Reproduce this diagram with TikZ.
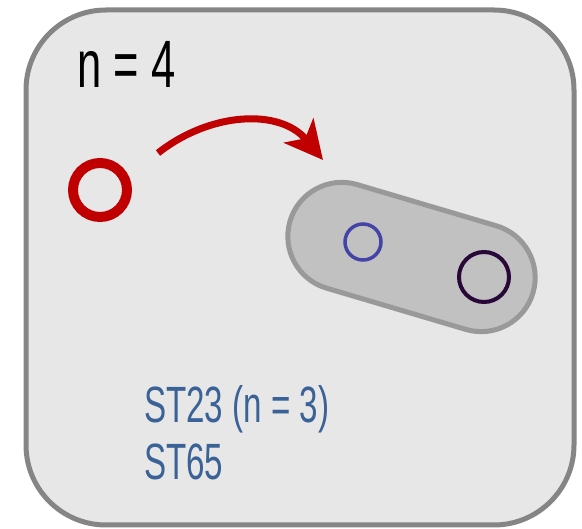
\documentclass[tikz,border=0pt]{standalone}
\usepackage{fontspec}
\newfontfamily\narrowfont[FakeStretch=0.65]{Liberation Sans}
\usetikzlibrary{arrows.meta, positioning, shapes.misc}
\definecolor{panelfill}{RGB}{231,231,231}
\definecolor{panelline}{RGB}{133,133,133}
\definecolor{isored}{RGB}{192,0,0}
\definecolor{pairfill}{RGB}{193,193,193}
\definecolor{pairline}{RGB}{153,153,153}
\definecolor{stblue}{RGB}{68,68,168}
\definecolor{stdark}{RGB}{40,8,56}
\definecolor{labelblue}{RGB}{58,98,150}

\begin{document}
\begin{tikzpicture}[x=1pt, y=-1pt,
  panel/.style={draw=panelline, fill=panelfill, line width=5pt, rounded corners=80pt},
  strain/.style={circle, draw, inner sep=0pt},
  big text/.style={font=\narrowfont\fontsize{67}{72}\selectfont, anchor=base west, inner sep=0pt},
  st text/.style={font=\narrowfont\fontsize{51}{56}\selectfont, labelblue, anchor=base west, inner sep=0pt}]
  \useasboundingbox (0,0) rectangle (582,529);
  % Outer panel
  \draw[panel] (26,10) rectangle (574,525);
  \node[big text] (count) at (77,88) {n = 4};
  % Single isolate
  \node[strain, draw=isored, line width=10pt, minimum size=54pt] (iso) at (100,190) {};
  % Arrow
  \coordinate (arrow start) at (158,153);
  \coordinate (arrow end) at (323,160);
  \draw[isored, line width=7pt, -{Stealth[length=38pt, width=38pt, inset=10pt]}]
    (arrow start) .. controls (210,112) and (280,108) .. (arrow end);
  % Pair of strains
  \node[rounded rectangle, draw=pairline, fill=pairfill, line width=5pt,
    minimum width=260pt, minimum height=108pt, rotate=-16.5] (pair) at (411.5,257) {};
  \node[strain, draw=stblue, line width=3.5pt, minimum size=36pt] (st23) at (363,242) {};
  \node[strain, draw=stdark, line width=4pt, minimum size=50pt] (st65) at (484,277) {};
  % Labels
  \node[st text] (st23 label) at (144,423) {ST23 (n = 3)};
  \node[st text] (st65 label) at (144,480) {ST65};
\end{tikzpicture}
\end{document}
